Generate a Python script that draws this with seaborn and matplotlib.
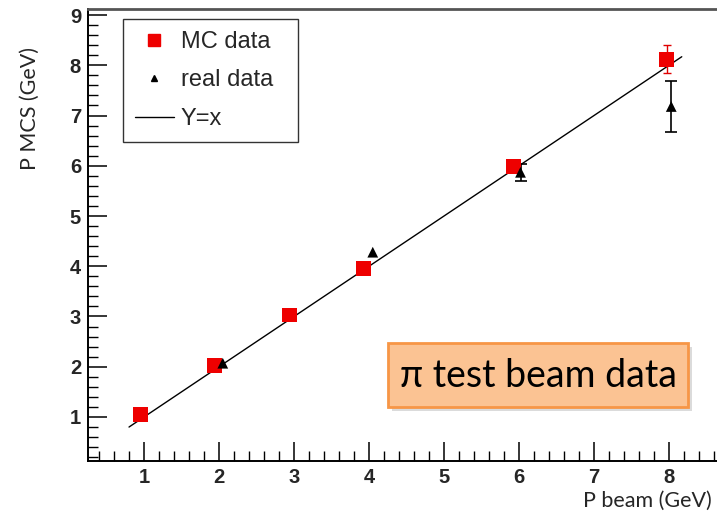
import numpy as np
import pandas as pd
import matplotlib
matplotlib.use("Agg")
import matplotlib.pyplot as plt
from matplotlib.lines import Line2D
from matplotlib.patches import Rectangle
from matplotlib.ticker import MultipleLocator
import seaborn as sns

# ---- data ----
mc_x = [0.95, 1.94, 2.94, 3.93, 5.93, 7.97]
mc_y = [1.05, 2.03, 3.03, 3.96, 5.99, 8.12]
mc_err = [0.03, 0.04, 0.05, 0.06, 0.08, 0.28]

real_x = [2.05, 4.05, 6.02, 8.03]
real_y = [2.07, 4.28, 5.87, 7.18]
real_err = [0.0, 0.0, 0.17, 0.50]

line_x = [0.8, 8.17]
line_y = [0.8, 8.17]

x_ticks = [1, 2, 3, 4, 5, 6, 7, 8]
y_ticks = [1, 2, 3, 4, 5, 6, 7, 8, 9]

legend_labels = ["MC data", "real data", "Y=x"]
x_label = "P beam (GeV)"
y_label = "P MCS (GeV)"
note_text = "\u03c0 test beam data"

sns.set_theme(style="white")
plt.rcParams['font.family'] = ['Liberation Sans', 'DejaVu Sans']

W, H = 717, 518
fig = plt.figure(figsize=(W / 100, H / 100), dpi=100)
L, R, B, T = 88, 717, 461, 9
ax = fig.add_axes([L / W, 1 - B / H, (R - L) / W, (B - T) / H])

df_mc = pd.DataFrame({"x": mc_x, "y": mc_y, "err": mc_err})
df_real = pd.DataFrame({"x": real_x, "y": real_y, "err": real_err})
df_line = pd.DataFrame({"x": line_x, "y": line_y})
df_real_err = df_real[df_real["err"] > 0]

sns.lineplot(data=df_line, x="x", y="y", ax=ax, color="black", lw=1.0, zorder=2)
ax.errorbar(df_mc["x"], df_mc["y"], yerr=df_mc["err"], fmt="none", ecolor="#e00000",
            elinewidth=1.0, capsize=3, capthick=1.0, zorder=3)
ax.errorbar(df_real_err["x"], df_real_err["y"], yerr=df_real_err["err"], fmt="none",
            ecolor="black", elinewidth=1.2, capsize=4, capthick=1.2, zorder=3.5)
sns.scatterplot(data=df_mc, x="x", y="y", ax=ax, marker="s", s=115, color="#ee0000",
                edgecolor="none", zorder=4)
sns.scatterplot(data=df_real, x="x", y="y", ax=ax, marker="^", s=60, color="black",
                edgecolor="none", zorder=6)

ax.set_xlim(0.253, 8.64)
ax.set_ylim(0.124, 9.12)
ax.set_xticks(x_ticks)
ax.set_yticks(y_ticks)
ax.xaxis.set_minor_locator(MultipleLocator(0.2))
ax.yaxis.set_minor_locator(MultipleLocator(0.2))
ax.tick_params(which="major", direction="in", length=14, width=1.1, color="black",
               labelsize=14.5, pad=5)
ax.tick_params(which="minor", direction="in", length=7, width=1.0, color="black")
ax.tick_params(axis="x", which="both", bottom=True, top=False)
ax.tick_params(axis="y", which="both", left=True, right=False)
for lab in ax.get_xticklabels() + ax.get_yticklabels():
    lab.set_fontweight("bold")
ax.set_xlabel("")
ax.set_ylabel("")
for side in ["left", "bottom"]:
    ax.spines[side].set_color("black")
    ax.spines[side].set_linewidth(1.4)
ax.spines["top"].set_color("#555555")
ax.spines["top"].set_linewidth(2.0)
ax.spines["right"].set_visible(False)

handles = [
    Line2D([], [], marker="s", color="#ee0000", ls="none", markersize=8),
    Line2D([], [], marker="^", color="black", ls="none", markersize=5),
    Line2D([], [], color="black", lw=1.0),
]
lx0, lx1, ly0 = 123, 298, 19
leg = ax.legend(handles, legend_labels, loc="upper left", mode="expand",
                bbox_to_anchor=((lx0 - L) / (R - L), 1 - (ly0 - T) / (B - T),
                                (lx1 - lx0) / (R - L), 0.0),
                borderaxespad=0, fancybox=False, frameon=True, fontsize=17,
                handlelength=1.65, handletextpad=0.3, labelspacing=0.7,
                borderpad=0.5)
leg.get_frame().set_edgecolor("black")
leg.get_frame().set_linewidth(1.0)

# annotation box
bx0, by0, bx1, by1 = 388, 343, 688, 407
fig.patches.append(Rectangle(((bx0 + 4) / W, 1 - (by1 + 4) / H), (bx1 - bx0) / W,
                             (by1 - by0) / H, transform=fig.transFigure,
                             facecolor="#999999", alpha=0.35, edgecolor="none", zorder=8))
fig.patches.append(Rectangle((bx0 / W, 1 - by1 / H), (bx1 - bx0) / W, (by1 - by0) / H,
                             transform=fig.transFigure, facecolor="#fbc393",
                             edgecolor="#f79646", lw=2.0, zorder=9))
fig.text((bx0 + bx1) / 2 / W, 1 - 376 / H, note_text, ha="center", va="center",
         fontsize=27, family=["Lato", "Liberation Serif"], color="black", zorder=10)

fig.text(30 / W, 1 - 108 / H, y_label, rotation=90, ha="center", va="center",
         fontsize=15.5, family=["Lato", "DejaVu Sans"])
fig.text(712 / W, 1 - 501 / H, x_label, ha="right", va="center",
         fontsize=15.5, family=["Lato", "DejaVu Sans"])

fig.savefig("out.png", dpi=100)
